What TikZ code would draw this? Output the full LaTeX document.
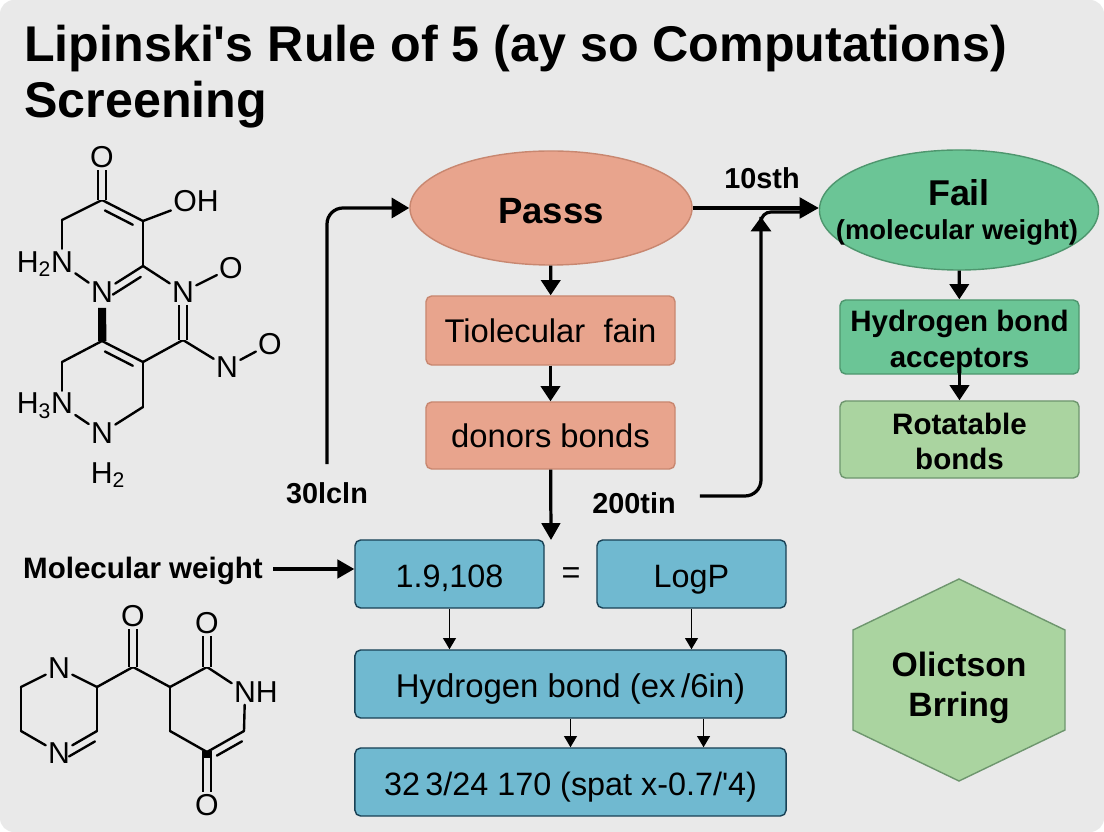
\documentclass[tikz,border=0pt]{standalone}
\usepackage{fontspec}
\setmainfont{Liberation Sans}
\usepackage{xcolor}
\usetikzlibrary{arrows.meta,calc,shapes.geometric}
\definecolor{pagegray}{RGB}{233,233,233}
\definecolor{salmonfill}{RGB}{232,164,141}
\definecolor{salmonline}{RGB}{200,135,112}
\definecolor{greenfill}{RGB}{107,197,150}
\definecolor{greenline}{RGB}{78,150,110}
\definecolor{palefill}{RGB}{170,212,160}
\definecolor{paleline}{RGB}{110,150,110}
\definecolor{bluefill}{RGB}{112,185,208}
\definecolor{blueline}{RGB}{25,65,85}
\newcommand{\innerbond}[2]{\draw[bond] ($(#1)!.16!(#2)!0.2cm!90:(#2)$) -- ($(#2)!.16!(#1)!0.2cm!-90:(#1)$);}

\begin{document}
\begin{tikzpicture}[
    x=0.025cm, y=-0.025cm,
    panel/.style={draw, rounded corners=4pt, line width=1pt, align=center, inner sep=0pt},
    salmonbox/.style={panel, fill=salmonfill, draw=salmonline, minimum width=6.225cm, text height=0.62cm, text depth=0pt, font=\fontsize{23.3}{27}\selectfont},
    bluebox/.style={panel, fill=bluefill, draw=blueline, minimum height=1.7cm, text height=0.66cm, text depth=0pt, font=\fontsize{23}{27}\selectfont},
    failbox/.style={panel, minimum width=5.975cm, font=\fontsize{21}{25.5}\selectfont\bfseries},
    flowlabel/.style={font=\fontsize{20.5}{24}\selectfont\bfseries, inner sep=0pt},
    flow/.style={line width=2.3pt, -{Triangle[length=0.38cm,width=0.48cm]}},
    bigflow/.style={line width=2.3pt, -{Triangle[length=0.48cm,width=0.52cm]}},
    thinflow/.style={line width=1.1pt, -{Triangle[length=0.28cm,width=0.32cm]}},
    bond/.style={line width=1.7pt, line cap=round},
    dbond/.style={line width=1.5pt, double=pagegray, double distance=1.6mm},
    atom/.style={font=\fontsize{21.5}{24}\selectfont, inner sep=1.5pt}
]
\useasboundingbox (0,0) rectangle (1104,832);
\fill[white] (0,0) rectangle (1104,832);
\fill[pagegray, rounded corners=0.35cm] (0,0) rectangle (1104,832);

% title
\node[anchor=north west, align=left, inner sep=0pt, font=\fontsize{35.7}{40}\selectfont\bfseries] (title) at (24,25) {Lipinski\textquotesingle s Rule of 5 (ay so Computations)\\Screening};

% upper molecule
\node[atom] (o1) at (102,157) {O};
\node[atom] (oh) at (196,201) {OH};
\node[atom] (n1) at (62,264) {\llap{H\textsubscript{2}}N};
\node[atom] (n2) at (102,292) {N};
\node[atom] (n3) at (183,292) {N};
\node[atom] (o2) at (231,268) {O};
\node[atom] (n4) at (227,367) {N};
\node[atom] (o3) at (270,344) {O};
\node[atom] (n5) at (62,406) {\llap{H\textsubscript{3}}N};
\node[atom] (n6) at (102,433) {N};
\node[atom] (h2) at (108,475) {H\textsubscript{2}};
\foreach \name/\pos in {c1/{102,200}, c2/{143,221}, c3/{62,220}, c4/{143,266}, c5/{183,340}, c6/{143,362}, c7/{102,341}, c8/{62,362}, c9/{143,407}}
    \coordinate (\name) at (\pos);
\foreach \a/\b in {c1/c2, c1/c3, c3/n1, c2/oh, c2/c4, n1/n2, n2/c4, c4/n3, n3/o2, c5/c6, c5/n4, n4/o3, c6/c7, c7/c8, c8/n5, n5/n6, n6/c9, c9/c6}
    \draw[bond] (\a) -- (\b);
\draw[dbond] (c1) -- (o1);
\draw[dbond] (n3) -- (c5);
\innerbond{c2}{c1}
\innerbond{c4}{n2}
\innerbond{c6}{c7}
\fill (98,308) -- (106,308) -- (106.5,341) -- (98,341) -- cycle;

% lower molecule
\node[atom] (o4) at (133,616) {O};
\node[atom] (n7) at (59,668) {N};
\node[atom] (n8) at (59,753) {N};
\node[atom] (o5) at (207,623) {O};
\node[atom] (n9) at (245,692) {N\rlap{H}};
\node[atom] (o6) at (207,805) {O};
\foreach \name/\pos in {d1/{133,667}, d2/{97,687}, d3/{21,687}, d4/{21,731}, d5/{97,731}, d6/{170,687}, d7/{207,667}, d8/{244,731}, d9/{207,752}, d10/{170,731}}
    \coordinate (\name) at (\pos);
\foreach \a/\b in {d1/d2, d2/n7, n7/d3, d3/d4, d4/n8, n8/d5, d5/d2, d1/d6, d6/d7, d7/n9, n9/d8, d8/d9, d9/d10, d10/d6}
    \draw[bond] (\a) -- (\b);
\draw[dbond] (d1) -- (o4);
\draw[dbond] (d7) -- (o5);
\draw[dbond] (d9) -- (o6);
\innerbond{d5}{n8}
\innerbond{d8}{d9}
\fill (202,751) -- (212,751) -- (212,758) -- (202,758) -- cycle;

% upper flow
\node[ellipse, draw=salmonline, fill=salmonfill, line width=1pt, minimum width=7.05cm, minimum height=2.85cm, inner sep=0pt, text height=0.75cm, text depth=0pt, font=\fontsize{26}{30}\selectfont\bfseries] (passs) at (551,208) {Passs};
\node[salmonbox, minimum height=1.725cm] (tiol) at (550.5,330.5) {Tiolecular\ \ fain};
\node[salmonbox, minimum height=1.675cm] (donors) at (550.5,435.5) {donors bonds};
\node[ellipse, draw=greenline, fill=greenfill, line width=1pt, minimum width=6.975cm, minimum height=3cm, inner sep=0pt, text height=0pt, text depth=0.2cm, font=\fontsize{25.5}{28}\selectfont\bfseries] (fail) at (959,210) {Fail};
\node[inner sep=0pt, font=\fontsize{19.5}{22}\selectfont\bfseries] (failnote) at (957,232) {(molecular weight)};
\node[failbox, fill=greenfill, draw=greenline, minimum height=1.85cm] (hbacc) at (959.5,337) {\rule{0pt}{22pt}Hydrogen bond\\acceptors};
\node[failbox, fill=palefill, draw=paleline, minimum height=1.925cm] (rotat) at (959.5,439.5) {\rule{0pt}{18pt}Rotatable\\bonds};
\draw[flow] (passs) -- (tiol);
\draw[flow] (tiol) -- (donors);
\draw[flow] (fail) -- (hbacc);
\draw[flow] (hbacc.center |- 0,362) -- (rotat);
\coordinate (entry) at (551,540);
\draw[bigflow, -{Triangle[length=0.42cm,width=0.46cm]}] (donors) -- (entry);

% lower flow
\node[bluebox, minimum width=4.725cm] (value) at (449.5,574) {1.9,108};
\node[bluebox, minimum width=4.725cm] (logp) at (691.5,574) {LogP};
\node[font=\fontsize{23}{27}\selectfont, inner sep=0pt] (equal) at (571,576) {=};
\node[bluebox, minimum width=10.775cm, font=\fontsize{23.4}{27}\selectfont] (hbond) at (570.5,684) {Hydrogen bond (ex\,/6in)};
\node[bluebox, minimum width=10.775cm] (spat) at (570.5,782) {32\,3/24 170 (spat x-0.7/\textquotesingle 4)};
\draw[thinflow] (value) -- (value |- hbond.north);
\draw[thinflow] (logp) -- (logp |- hbond.north);
\draw[thinflow] (hbond) -- (spat);
\draw[thinflow] ([xshift=3.325cm]hbond.south) -- ([xshift=3.325cm]spat.north);

% labels and feedback arrows
\node[flowlabel, font=\fontsize{21}{24}\selectfont\bfseries] (lblmw) at (143,571) {Molecular weight};
\node[flowlabel] (lbl30) at (327,493) {30lcln};
\node[flowlabel] (lbl200) at (634,503) {200tin};
\node[flowlabel, font=\fontsize{20.5}{24}\selectfont\bfseries] (lbl10) at (762,178) {10sth};
\draw[flow, -{Triangle[length=0.42cm,width=0.46cm]}] (273,569) -- (value.west |- 273,569);
\draw[flow, rounded corners=0.4cm, -{Triangle[length=0.44cm,width=0.5cm]}] ([yshift=0.45cm]lbl30.north) |- (passs.west);
\draw[bigflow] (passs.east) -- (passs.east -| fail.west);
\coordinate (join) at (761,217);
\coordinate (joinend) at (800,212);
\draw[flow, rounded corners=0.4cm, -{Triangle[length=0.36cm,width=0.5cm]}] ([xshift=0.6cm,yshift=0.175cm]lbl200.east) -| (join);
\draw[line width=2.3pt, rounded corners=0.25cm] (join) |- (joinend);

% ring note
\draw[fill=palefill, draw=paleline, line width=1pt] (959,579) -- (1065,630) -- (1065,730) -- (959,781) -- (853,730) -- (853,630) -- cycle;
\node[align=center, inner sep=0pt, font=\fontsize{24}{28.5}\selectfont\bfseries] (ring) at (959,688) {Olictson\\Brring};
\end{tikzpicture}
\end{document}
